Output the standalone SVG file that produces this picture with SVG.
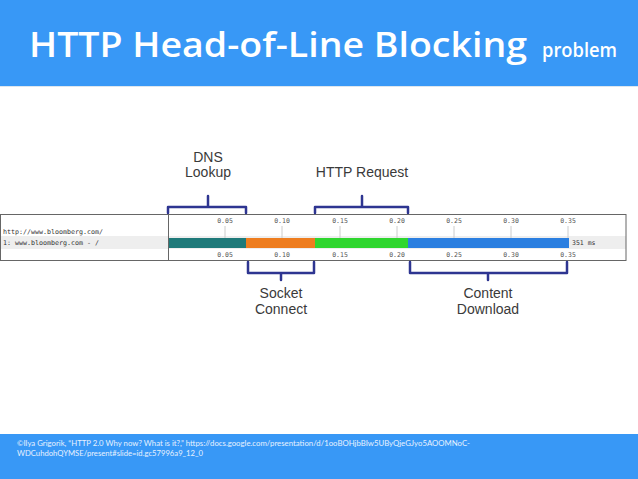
<svg xmlns="http://www.w3.org/2000/svg" width="638" height="479" viewBox="0 0 638 479">
<style>
.band{fill:#3898f6}
.title{font-family:"Open Sans","DejaVu Sans",sans-serif;fill:#fff;font-weight:600}
.lbl{font-family:"Liberation Sans",Arial,sans-serif;font-size:14px;fill:#3a3a3a;text-anchor:middle}
.tick{font-family:"DejaVu Sans Mono","Liberation Mono",monospace;font-size:6.5px;fill:#555;text-anchor:middle}
.row{font-family:"DejaVu Sans Mono","Liberation Mono",monospace;font-size:6.5px;fill:#333}
.brace{fill:none;stroke:#2e3591;stroke-width:2.5;stroke-linejoin:round;stroke-linecap:round}
.grid{stroke:#ccc;stroke-width:1}
.cite{font-family:"Lato","Liberation Sans",sans-serif;font-size:7px;fill:#e8f2ff}
</style>
<rect x="0" y="0" width="638" height="479" fill="#fff"/>
<g id="header">
<rect class="band" x="0" y="0" width="638" height="86"/>
<line x1="0" y1="86.5" x2="638" y2="86.5" stroke="#dde6ee" stroke-width="1"/>
<text class="title" x="29" y="57" font-size="35" textLength="498" lengthAdjust="spacingAndGlyphs">HTTP Head-of-Line Blocking</text>
<text class="title" x="542" y="57" font-size="19" textLength="75" lengthAdjust="spacingAndGlyphs">problem</text>
</g>
<g id="waterfall">
<rect x="0" y="236" width="626" height="13" fill="#eeeeee"/>
<rect x="0.5" y="214.5" width="625.5" height="46" fill="none" stroke="#666" stroke-width="1"/>
<line x1="168.5" y1="214.5" x2="168.5" y2="260.5" stroke="#666" stroke-width="1"/>
<g class="grid">
<line x1="225" y1="226" x2="225" y2="238"/>
<line x1="282" y1="226" x2="282" y2="238"/>
<line x1="340" y1="226" x2="340" y2="238"/>
<line x1="397" y1="226" x2="397" y2="238"/>
<line x1="454" y1="226" x2="454" y2="238"/>
<line x1="511" y1="226" x2="511" y2="238"/>
<line x1="568" y1="226" x2="568" y2="238"/>
</g>
<text class="tick" x="225" y="223">0.05</text>
<text class="tick" x="282" y="223">0.10</text>
<text class="tick" x="340" y="223">0.15</text>
<text class="tick" x="397" y="223">0.20</text>
<text class="tick" x="454" y="223">0.25</text>
<text class="tick" x="511" y="223">0.30</text>
<text class="tick" x="568" y="223">0.35</text>
<text class="tick" x="225" y="257">0.05</text>
<text class="tick" x="282" y="257">0.10</text>
<text class="tick" x="340" y="257">0.15</text>
<text class="tick" x="397" y="257">0.20</text>
<text class="tick" x="454" y="257">0.25</text>
<text class="tick" x="511" y="257">0.30</text>
<text class="tick" x="568" y="257">0.35</text>
<text class="row" x="3" y="234" textLength="100" lengthAdjust="spacingAndGlyphs">http://www.bloomberg.com/</text>
<text class="row" x="3" y="245" textLength="96" lengthAdjust="spacingAndGlyphs">1: www.bloomberg.com - /</text>
<rect x="169" y="238" width="77" height="10" fill="#1f7a7a"/>
<rect x="246" y="238" width="69" height="10" fill="#ee7d1f"/>
<rect x="315" y="238" width="93" height="10" fill="#2fd62f"/>
<rect x="408" y="238" width="161" height="10" fill="#2b7fe0"/>
<text class="row" x="572" y="245">351 ms</text>
</g>
<g id="dns">
<path class="brace" d="M168,213 V207 H246 V213 M208,207 V196"/>
<text class="lbl" x="208" y="162">DNS</text>
<text class="lbl" x="208" y="177">Lookup</text>
</g>
<g id="http-request">
<path class="brace" d="M315,213 V207 H408 V213 M362,207 V196"/>
<text class="lbl" x="362" y="177">HTTP Request</text>
</g>
<g id="socket">
<path class="brace" d="M248,262 V273 H314 V262 M281,273 V280"/>
<text class="lbl" x="281" y="298">Socket</text>
<text class="lbl" x="281" y="314">Connect</text>
</g>
<g id="content">
<path class="brace" d="M410,262 V273 H567 V262 M488,273 V280"/>
<text class="lbl" x="488" y="298">Content</text>
<text class="lbl" x="488" y="314">Download</text>
</g>
<g id="footer">
<rect class="band" x="0" y="434" width="638" height="45"/>
<text class="cite" x="17" y="446" textLength="453" lengthAdjust="spacingAndGlyphs">©Ilya Grigorik, “HTTP 2.0 Why now? What is it?,” https://docs.google.com/presentation/d/1ooBOHjbBIw5UByQjeGJyo5AOOMNoC-</text>
<text class="cite" x="17" y="456" textLength="186" lengthAdjust="spacingAndGlyphs">WDCuhdohQYMSE/present#slide=id.gc57996a9_12_0</text>
</g>
</svg>
